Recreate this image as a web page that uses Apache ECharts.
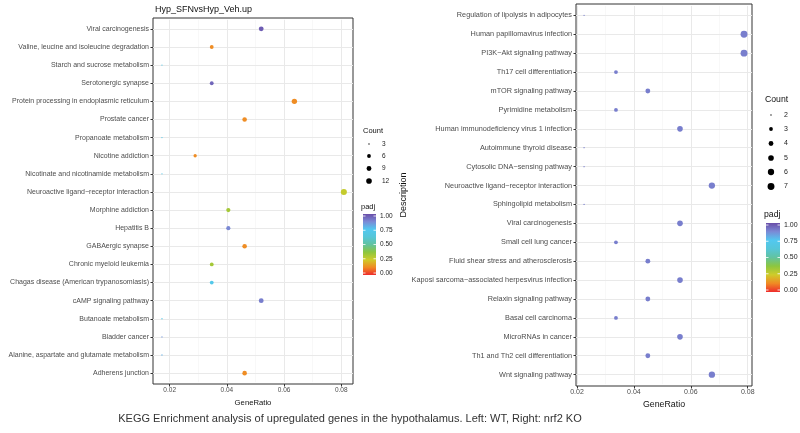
<!DOCTYPE html>
<html><head><meta charset="utf-8">
<script src="https://cdn.jsdelivr.net/npm/echarts@6/dist/echarts.min.js"></script>
<style>html,body{margin:0;padding:0;background:#fff}#c{width:800px;height:433px}</style>
</head><body><div id="c"></div>
<script>
// ---------- data ----------
const leftTitle = 'Hyp_SFNvsHyp_Veh.up';
const leftTerms = ['Viral carcinogenesis','Valine, leucine and isoleucine degradation','Starch and sucrose metabolism','Serotonergic synapse','Protein processing in endoplasmic reticulum','Prostate cancer','Propanoate metabolism','Nicotine addiction','Nicotinate and nicotinamide metabolism','Neuroactive ligand\u2212receptor interaction','Morphine addiction','Hepatitis B','GABAergic synapse','Chronic myeloid leukemia','Chagas disease (American trypanosomiasis)','cAMP signaling pathway','Butanoate metabolism','Bladder cancer','Alanine, aspartate and glutamate metabolism','Adherens junction'];
const leftRatio = [0.0520,0.0347,0.0173,0.0347,0.0636,0.0462,0.0173,0.0289,0.0173,0.0809,0.0405,0.0405,0.0462,0.0347,0.0347,0.0520,0.0173,0.0173,0.0173,0.0462];
const leftCount = [9,6,3,6,11,8,3,5,3,14,7,7,8,6,6,9,3,3,3,8];
const leftPadj  = [0.97,0.13,0.70,0.95,0.13,0.13,0.70,0.13,0.72,0.27,0.33,0.88,0.13,0.33,0.72,0.90,0.70,0.85,0.80,0.13];

const rightTerms = ['Regulation of lipolysis in adipocytes','Human papillomavirus infection','PI3K\u2212Akt signaling pathway','Th17 cell differentiation','mTOR signaling pathway','Pyrimidine metabolism','Human immunodeficiency virus 1 infection','Autoimmune thyroid disease','Cytosolic DNA\u2212sensing pathway','Neuroactive ligand\u2212receptor interaction','Sphingolipid metabolism','Viral carcinogenesis','Small cell lung cancer','Fluid shear stress and atherosclerosis','Kaposi sarcoma\u2212associated herpesvirus infection','Relaxin signaling pathway','Basal cell carcinoma','MicroRNAs in cancer','Th1 and Th2 cell differentiation','Wnt signaling pathway'];
const rightRatio = [0.0225,0.0787,0.0787,0.0337,0.0449,0.0337,0.0562,0.0225,0.0225,0.0674,0.0225,0.0562,0.0337,0.0449,0.0562,0.0449,0.0337,0.0562,0.0449,0.0674];
const rightCount = [2,7,7,3,4,3,5,2,2,6,2,5,3,4,5,4,3,5,4,6];
const rightPadj  = [0.9,0.9,0.9,0.9,0.9,0.9,0.9,0.9,0.9,0.9,0.9,0.9,0.9,0.9,0.9,0.9,0.9,0.9,0.9,0.9];

const xTicks = [0.02,0.04,0.06,0.08];
const xMinor = [0.03,0.05,0.07];
const leftCountTicks = [3,6,9,12];
const rightCountTicks = [2,3,4,5,6,7];
const padjTicks = [0,0.25,0.5,0.75,1];
const caption = 'KEGG Enrichment analysis of upregulated genes in the hypothalamus. Left: WT, Right: nrf2 KO';

// ---------- styles ----------
const FONT = '"Liberation Sans", Arial, sans-serif';
const padjColors = ['#ee2c2c','#f08a24','#cfcc2a','#8cc63f','#62c3a0','#56c6d8','#52c8f0','#7b8ad6','#6a4ea8'];
const leftSize = c => 1.3 + 4.8*Math.sqrt(Math.max(0,(c-3))/11);
const rightSize = c => 1.3 + 5.6*Math.sqrt(Math.max(0,(c-2))/5);

const L = {left:153, top:18, width:200, height:366, xmin:0.01416, xmax:0.0841};
const R = {left:576, top:4, width:176, height:382, xmin:0.01966, xmax:0.0815};
function dataRect(P){ const rh = P.height/20.2; return {left:P.left, top:P.top+0.1*rh, width:P.width, height:20*rh, off:0.1*rh}; }
const LD = dataRect(L), RD = dataRect(R);

const chart = echarts.init(document.getElementById('c'), null, {renderer:'canvas'});

function xAx(gi, P, D, fs, nameFs, nameGap){
  return {type:'value', gridIndex:gi, min:P.xmin, max:P.xmax, offset:D.off,
    minInterval:0.02, maxInterval:0.02,
    axisLine:{show:false}, splitLine:{show:false},
    axisTick:{show:true, length:2.5, lineStyle:{color:'#333'}, customValues:xTicks},
    axisLabel:{fontSize:fs, color:'#4d4d4d', fontFamily:FONT, margin:2.5, customValues:xTicks,
      formatter:v=>v.toFixed(2)},
    name:'GeneRatio', nameLocation:'middle', nameGap:nameGap,
    nameTextStyle:{fontSize:nameFs, color:'#111', fontFamily:FONT}};
}
function yAx(gi, terms, fs, extra){
  return Object.assign({type:'category', gridIndex:gi, data:terms, inverse:true,
    axisLine:{show:false}, splitLine:{show:false},
    axisTick:{show:true, alignWithLabel:true, length:2.5, lineStyle:{color:'#333'}},
    axisLabel:{fontSize:fs, color:'#4d4d4d', fontFamily:FONT, margin:4, interval:0}}, extra||{});
}
function bgLines(xi, yi, terms){
  return {type:'scatter', xAxisIndex:xi, yAxisIndex:yi, data:[], z:1, silent:true,
    markLine:{silent:true, z:1, zlevel:0, symbol:['none','none'], label:{show:false}, animation:false,
      emphasis:{disabled:true},
      data: xMinor.map(v=>({xAxis:v, lineStyle:{color:'#f4f4f4', width:0.6, type:'solid'}}))
        .concat(xTicks.map(v=>({xAxis:v, lineStyle:{color:'#e9e9e9', width:1, type:'solid'}})))
        .concat(terms.map(t=>({yAxis:t, lineStyle:{color:'#e9e9e9', width:1, type:'solid'}})))}};
}

const graphics = [];
function txt(x,y,s,fs,color,align,extra){ graphics.push(Object.assign({type:'text', x:x, y:y, style:{text:s, fontSize:fs, fill:color||'#111', fontFamily:FONT, textAlign:align||'left', textVerticalAlign:'middle'}}, extra||{})); }
function countLegend(x, ty, ys, ticks, sizeFn, titleFs, fs){
  txt(x-3, ty, 'Count', titleFs, '#111');
  ticks.forEach((c,i)=>{
    graphics.push({type:'circle', shape:{cx:x+3, cy:ys[i], r:sizeFn(c)/2}, style:{fill:'#000'}});
    txt(x+16, ys[i], String(c), fs, '#222');
  });
}
function colorbar(x, ty, top, w, h, titleFs, fs){
  txt(x-2, ty, 'padj', titleFs, '#111');
  const stops = padjColors.map((c,i)=>({offset:i/(padjColors.length-1), color:c}));
  graphics.push({type:'rect', shape:{x:x, y:top, width:w, height:h},
    style:{fill:new echarts.graphic.LinearGradient(0,1,0,0,stops)}});
  padjTicks.forEach(v=>{
    const y = top + 2 + (h-4)*(1-v);
    graphics.push({type:'line', shape:{x1:x, y1:y, x2:x+2.5, y2:y}, style:{stroke:'#fff', lineWidth:0.8}});
    graphics.push({type:'line', shape:{x1:x+w-2.5, y1:y, x2:x+w, y2:y}, style:{stroke:'#fff', lineWidth:0.8}});
    txt(x+w+4, y, v.toFixed(2), fs, '#222');
  });
}
countLegend(366, 131, [144,156,168.5,181], leftCountTicks, leftSize, 7.5, 6.5);
colorbar(363, 207, 214, 13, 61, 7.5, 6.5);
countLegend(768, 100, [115,129,143.5,158,172,186.5], rightCountTicks, rightSize, 8.7, 7);
colorbar(766, 215, 223, 14, 69, 8.7, 7);
txt(350, 419, caption, 11, '#333', 'center');
txt(155, 10, leftTitle, 9, '#111');

const option = {
  backgroundColor:'#fff',
  animation:false,
  grid:[
    {left:LD.left, top:LD.top, width:LD.width, height:LD.height, containLabel:false},
    {left:RD.left, top:RD.top, width:RD.width, height:RD.height, containLabel:false},
    {left:L.left, top:L.top, width:L.width, height:L.height, show:true, borderColor:'#333', borderWidth:1, backgroundColor:'transparent'},
    {left:R.left, top:R.top, width:R.width, height:R.height, show:true, borderColor:'#333', borderWidth:1, backgroundColor:'transparent'}
  ],
  xAxis:[ xAx(0,L,LD,6.5,7.7,12), xAx(1,R,RD,7,8.8,13),
    {type:'value', gridIndex:2, show:false}, {type:'value', gridIndex:3, show:false} ],
  yAxis:[ yAx(0,leftTerms,7), yAx(1,rightTerms,7.3,{name:'Description', nameLocation:'middle', nameGap:168, nameRotate:90,
      nameTextStyle:{fontSize:9, color:'#111', fontFamily:FONT}}),
    {type:'value', gridIndex:2, show:false}, {type:'value', gridIndex:3, show:false} ],
  visualMap:[
    {type:'continuous', show:false, min:0, max:1, dimension:3, seriesIndex:2, inRange:{color:padjColors}},
    {type:'continuous', show:false, min:0, max:1, dimension:3, seriesIndex:3, inRange:{color:padjColors}}
  ],
  series:[
    bgLines(0,0,leftTerms), bgLines(1,1,rightTerms),
    {type:'scatter', xAxisIndex:0, yAxisIndex:0, z:10,
      data:leftTerms.map((t,i)=>[leftRatio[i], t, leftCount[i], leftPadj[i]]),
      symbolSize:d=>leftSize(d[2]), itemStyle:{opacity:1}},
    {type:'scatter', xAxisIndex:1, yAxisIndex:1, z:10,
      data:rightTerms.map((t,i)=>[rightRatio[i], t, rightCount[i], rightPadj[i]]),
      symbolSize:d=>rightSize(d[2]), itemStyle:{opacity:1}}
  ],
  graphic:graphics
};
chart.setOption(option);
</script></body></html>
